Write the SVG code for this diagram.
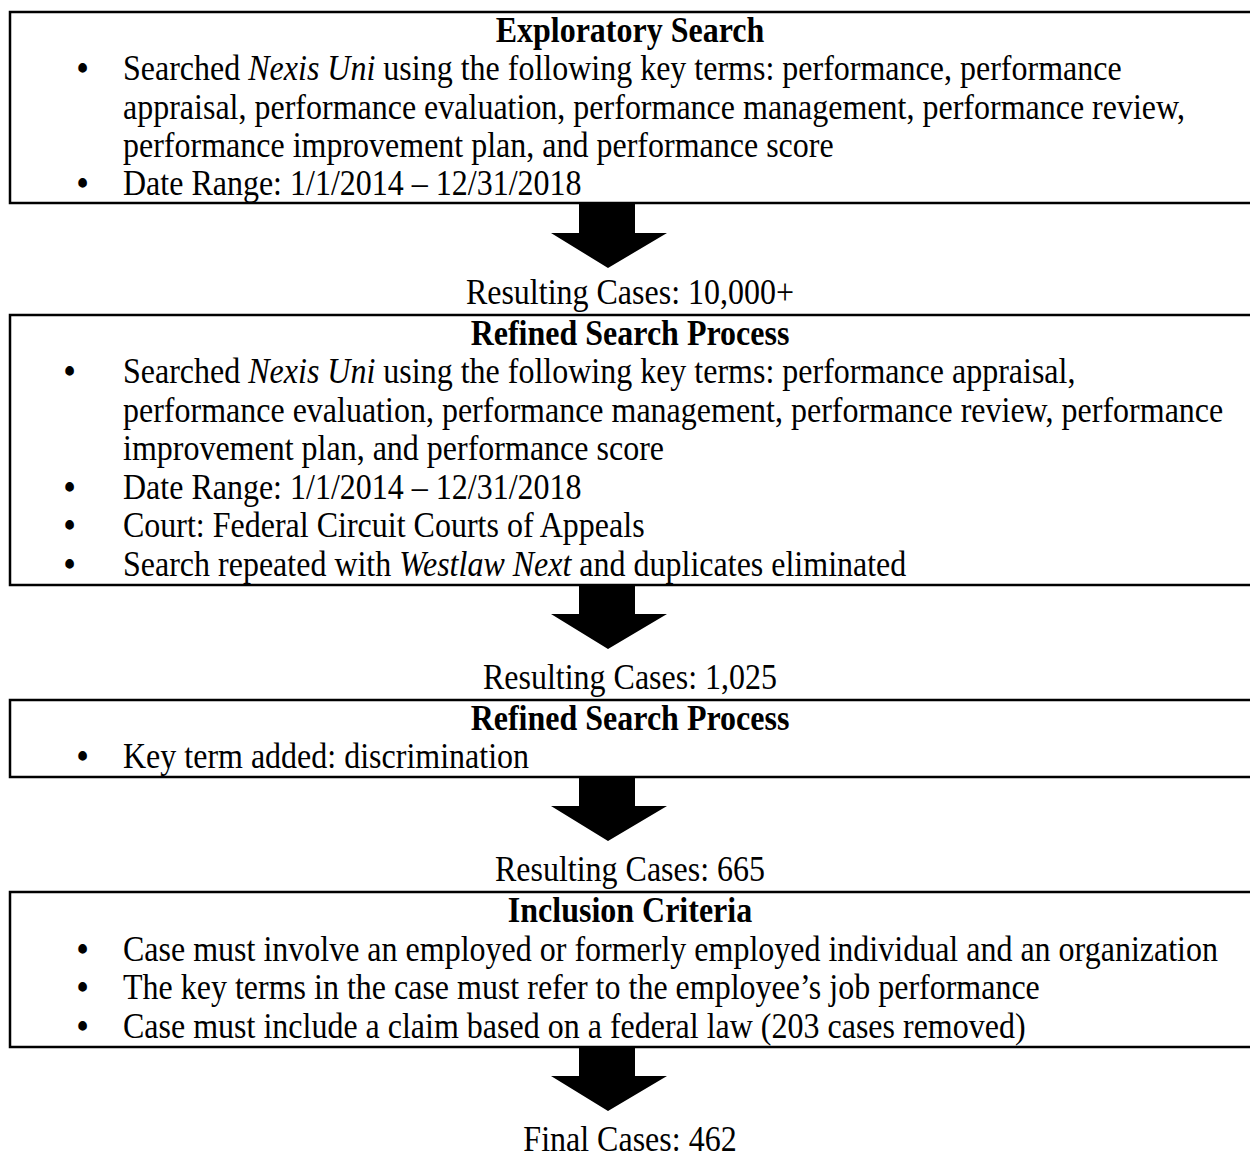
<svg xmlns="http://www.w3.org/2000/svg" width="1250" height="1157" viewBox="0 0 1250 1157">
<style>
text{font-family:"Liberation Serif","Times New Roman",serif;font-size:32px;fill:#000}
.t{font-weight:bold;text-anchor:middle}
.c{text-anchor:middle}
.b{font-weight:bold}
.i{font-style:italic}
.box{fill:none;stroke:#000;stroke-width:2.5}
.arr{fill:#000;stroke:none}
</style>
<rect width="1250" height="1157" fill="#fff"/>
<g id="box1">
<rect class="box" x="10" y="12" width="1260" height="191"/>
<g transform="scale(1,1.12)">
<text class="t" x="630" y="37.5">Exploratory Search</text>
<text x="77" y="71.4"><tspan class="b">•</tspan><tspan x="123">Searched </tspan><tspan class="i">Nexis Uni</tspan> using the following key terms: performance, performance</text>
<text x="123" y="106.2">appraisal, performance evaluation, performance management, performance review,</text>
<text x="123" y="140.2">performance improvement plan, and performance score</text>
<text x="77" y="174.1"><tspan class="b">•</tspan><tspan x="123">Date Range: 1/1/2014 – 12/31/2018</tspan></text>
</g>
</g>
<g id="result1"><text class="c" x="630" y="271.4" transform="scale(1,1.12)">Resulting Cases: 10,000+</text></g>
<g id="box2">
<rect class="box" x="10" y="315" width="1260" height="270"/>
<g transform="scale(1,1.12)">
<text class="t" x="630" y="308">Refined Search Process</text>
<text x="64" y="342"><tspan class="b">•</tspan><tspan x="123">Searched </tspan><tspan class="i">Nexis Uni</tspan> using the following key terms: performance appraisal,</text>
<text x="123" y="376.8">performance evaluation, performance management, performance review, performance</text>
<text x="123" y="410.7">improvement plan, and performance score</text>
<text x="64" y="445.5"><tspan class="b">•</tspan><tspan x="123">Date Range: 1/1/2014 – 12/31/2018</tspan></text>
<text x="64" y="479.5"><tspan class="b">•</tspan><tspan x="123">Court: Federal Circuit Courts of Appeals</tspan></text>
<text x="64" y="514.3"><tspan class="b">•</tspan><tspan x="123">Search repeated with </tspan><tspan class="i">Westlaw Next</tspan> and duplicates eliminated</text>
</g>
</g>
<g id="result2"><text class="c" x="630" y="615.2" transform="scale(1,1.12)">Resulting Cases: 1,025</text></g>
<g id="box3">
<rect class="box" x="10" y="700" width="1260" height="77"/>
<g transform="scale(1,1.12)">
<text class="t" x="630" y="651.8">Refined Search Process</text>
<text x="77" y="685.7"><tspan class="b">•</tspan><tspan x="123">Key term added: discrimination</tspan></text>
</g>
</g>
<g id="result3"><text class="c" x="630" y="786.6" transform="scale(1,1.12)">Resulting Cases: 665</text></g>
<g id="box4">
<rect class="box" x="10" y="892" width="1260" height="155"/>
<g transform="scale(1,1.12)">
<text class="t" x="630" y="823.2">Inclusion Criteria</text>
<text x="77" y="858"><tspan class="b">•</tspan><tspan x="123">Case must involve an employed or formerly employed individual and an organization</tspan></text>
<text x="77" y="892"><tspan class="b">•</tspan><tspan x="123">The key terms in the case must refer to the employee’s job performance</tspan></text>
<text x="77" y="926.8"><tspan class="b">•</tspan><tspan x="123">Case must include a claim based on a federal law (203 cases removed)</tspan></text>
</g>
</g>
<g id="final"><text class="c" x="630" y="1027.7" transform="scale(1,1.12)">Final Cases: 462</text></g>
<g id="connectors">
<path class="arr" d="M579,202 H635 V233 H667 L608,268 L551,233 H579 Z"/>
<path class="arr" d="M579,584 H635 V614 H667 L608,649 L551,614 H579 Z"/>
<path class="arr" d="M579,776 H635 V806 H667 L608,841 L551,806 H579 Z"/>
<path class="arr" d="M579,1046 H635 V1076 H667 L608,1111 L551,1076 H579 Z"/>
</g>
</svg>
